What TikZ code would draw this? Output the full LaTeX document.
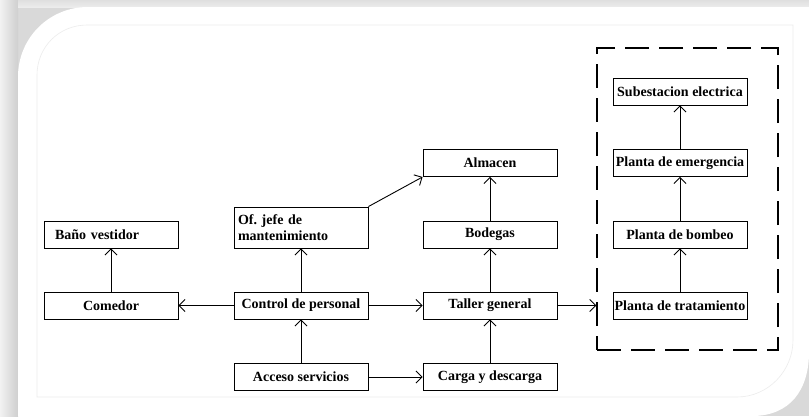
\documentclass[tikz,border=0pt]{standalone}
\usepackage{fontspec}
\setmainfont{Liberation Serif}
\usetikzlibrary{arrows.meta}

\begin{document}
\begin{tikzpicture}[x=1pt, y=-1pt,
        caja/.style={draw, line width=0.9pt, minimum width=134pt, minimum height=27pt,
            inner sep=0pt, font=\fontsize{14}{16}\selectfont\bfseries},
        flecha/.style={-{Straight Barb[length=6pt,width=12pt]}, line width=0.9pt}]
    \useasboundingbox (0,0) rectangle (809,416);
    \fill[gray!30] (0,0) rectangle (809,416);
    \shade[left color=gray!10, right color=gray!38] (0,0) rectangle (18,416);
    \shade[top color=gray!25, bottom color=gray!15] (18,0) rectangle (809,7);
    \fill[white] (18,416) -- (18,77) .. controls (18,38) and (49,7) .. (88,7) -- (809,7)
        -- (809,352) .. controls (809,390) and (790,416) .. (752,416) -- cycle;
    \draw[gray!15, line width=0.6pt] (37,397) -- (37,75) .. controls (37,47) and (59,25) .. (87,25)
        -- (793,25) -- (793,340) .. controls (793,371) and (768,397) .. (737,397) -- cycle;
    \node[caja, text width=112pt, inner xsep=11pt, align=left] (bano) at (111,234.5) {Baño vestidor};
    \node[caja, text width=120pt, inner xsep=7pt, align=center] (comedor) at (111,305.5) {Comedor};
    \node[caja, minimum height=41pt, text width=126pt, inner xsep=4pt, align=left] (jefe) at (301,227.5) {Of.\ jefe de\\mantenimiento};
    \node[caja] (control) at (301,305.5) {Control de personal};
    \node[caja] (acceso) at (301,377) {Acceso servicios};
    \node[caja] (almacen) at (490,163) {Almacen};
    \node[caja] (bodegas) at (490,234.5) {Bodegas};
    \node[caja] (taller) at (490,305.5) {Taller general};
    \node[caja] (carga) at (490,377) {Carga y descarga};
    \node[draw, line width=1.3pt, dash pattern=on 24pt off 10pt, minimum width=181pt, minimum height=302pt] (grupo) at (687.5,199) {};
    \node[caja] (subestacion) at (680,91.5) {Subestacion electrica};
    \node[caja] (emergencia) at (680,163) {Planta de emergencia};
    \node[caja] (bombeo) at (680,234.5) {Planta de bombeo};
    \node[caja] (tratamiento) at (680,305.5) {Planta de tratamiento};
    \draw[flecha] (comedor) -- (bano);
    \draw[flecha] (control) -- (comedor);
    \draw[flecha] (control) -- (jefe);
    \draw[flecha] (acceso) -- (control);
    \draw[flecha] (control) -- (taller);
    \draw[flecha] (acceso) -- (carga);
    \draw[flecha] (carga) -- (taller);
    \draw[flecha] (taller) -- (bodegas);
    \draw[flecha] (bodegas) -- (almacen);
    \draw[flecha] (jefe.north east) -- (almacen.south west);
    \draw[flecha] (taller) -- (taller -| grupo.west);
    \draw[flecha] (tratamiento) -- (bombeo);
    \draw[flecha] (bombeo) -- (emergencia);
    \draw[flecha] (emergencia) -- (subestacion);
\end{tikzpicture}
\end{document}
